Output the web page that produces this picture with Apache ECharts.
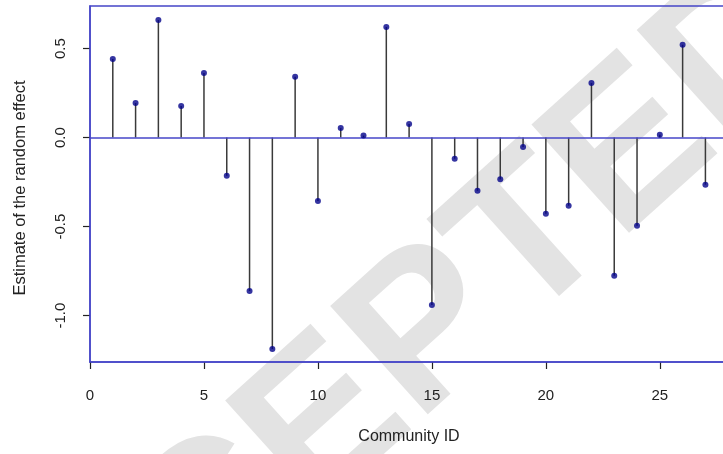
<!DOCTYPE html>
<html>
<head>
<meta charset="utf-8">
<script src="https://cdn.jsdelivr.net/npm/echarts@6/dist/echarts.min.js"></script>
<style>html,body{margin:0;padding:0;background:#fff;}#c{width:723px;height:454px;}</style>
</head>
<body>
<div id="c"></div>
<script>
const communityIds = [1,2,3,4,5,6,7,8,9,10,11,12,13,14,15,16,17,18,19,20,21,22,23,24,25,26,27];
const effects = [0.441,0.194,0.660,0.177,0.362,-0.215,-0.862,-1.188,0.342,-0.357,0.053,0.011,0.621,0.076,-0.941,-0.119,-0.299,-0.235,-0.053,-0.428,-0.383,0.306,-0.776,-0.496,0.016,0.521,-0.265];
const xTicks = [0,5,10,15,20,25];
const yTicks = [-1.0,-0.5,0.0,0.5];
const xTitle = 'Community ID';
const yTitle = 'Estimate of the random effect';
const watermark = 'ACCEPTED';

const pts = communityIds.map((id,i)=>[id,effects[i]]);
const chart = echarts.init(document.getElementById('c'));
const font = '"Liberation Sans", Arial, sans-serif';
const boxBlue = '#4646c8';
chart.setOption({
  animation:false,
  backgroundColor:'#fff',
  grid:{left:90,top:6,right:-28,bottom:92,outerBoundsMode:'none',containLabel:false,show:true,borderColor:boxBlue,borderWidth:1.5,backgroundColor:'transparent',z:3},
  xAxis:{type:'value',min:0,max:29,
    axisLine:{show:true,onZero:false,lineStyle:{color:boxBlue,width:1.5}},
    splitLine:{show:false},
    axisTick:{show:true,inside:false,length:7,customValues:xTicks,lineStyle:{color:'#222',width:1.2}},
    axisLabel:{customValues:xTicks,margin:26,fontSize:15,fontFamily:font,color:'#222'}
  },
  yAxis:{type:'value',min:-1.261,max:0.739,
    axisLine:{show:true,onZero:false,lineStyle:{color:boxBlue,width:1.5}},
    splitLine:{show:false},
    axisTick:{show:true,inside:false,length:7,customValues:yTicks,lineStyle:{color:'#222',width:1.2}},
    axisLabel:{customValues:yTicks,rotate:90,margin:22,fontSize:15,fontFamily:font,color:'#222',
      formatter:v=>v.toFixed(1)}
  },
  graphic:[
    {type:'text',x:365,y:392,rotation:0.733,z:-10,silent:true,
      style:{text:watermark,font:'bold 212px "Liberation Sans", Arial, sans-serif',fill:'#e3e3e3',align:'center',verticalAlign:'middle'}},
    {type:'text',x:409,y:437,z:10,
      style:{text:xTitle,font:'16px "Liberation Sans", Arial, sans-serif',fill:'#222',align:'center',verticalAlign:'middle'}},
    {type:'text',x:20,y:188,rotation:Math.PI/2,z:10,
      style:{text:yTitle,font:'16.5px "Liberation Sans", Arial, sans-serif',fill:'#222',align:'center',verticalAlign:'middle'}}
  ],
  series:[
    {type:'bar',data:pts,barWidth:1.5,itemStyle:{color:'#3a3a3a'},z:2,
     markLine:{silent:true,symbol:'none',label:{show:false},lineStyle:{color:boxBlue,width:1.5,type:'solid'},data:[{yAxis:0}]}},
    {type:'scatter',data:pts,symbol:'circle',symbolSize:6,itemStyle:{color:'#03038a'},z:5}
  ]
});
</script>
</body>
</html>
